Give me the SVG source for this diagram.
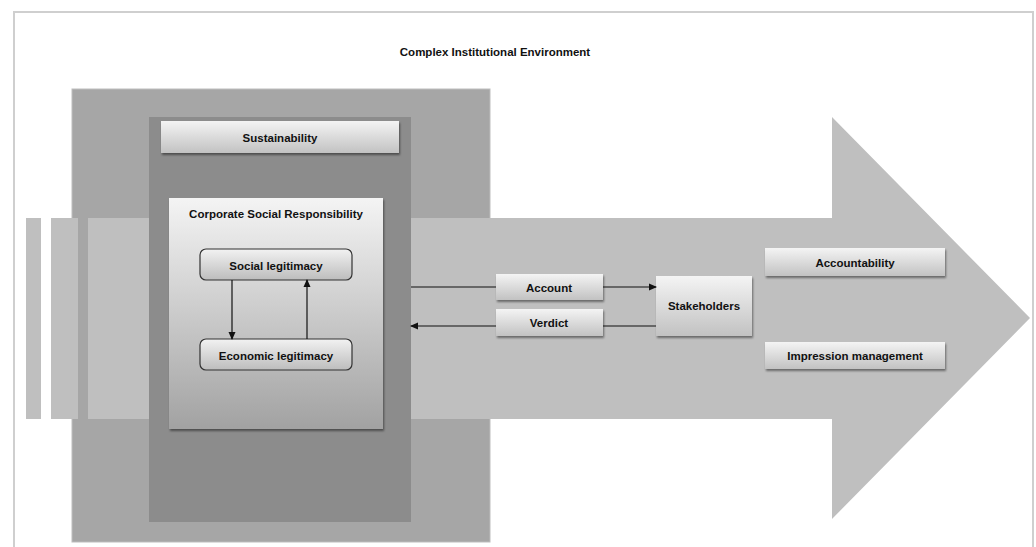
<svg xmlns="http://www.w3.org/2000/svg" width="1036" height="547" viewBox="0 0 1036 547">
<style>
text{font-family:"Liberation Sans",Arial,sans-serif;font-weight:bold;font-size:11.5px;fill:#111;text-anchor:middle;dominant-baseline:central}
.box{fill:url(#gBox);filter:url(#sh)}
.leg{fill:url(#gLeg);stroke:#333;stroke-width:1.2}
.conn{stroke:#111;stroke-width:1.2;fill:none}
</style>
<defs>
<linearGradient id="gBox" x1="0" y1="0" x2="0" y2="1">
<stop offset="0" stop-color="#f4f4f4"/><stop offset="1" stop-color="#c2c2c2"/>
</linearGradient>
<linearGradient id="gLeg" x1="0" y1="0" x2="0" y2="1">
<stop offset="0" stop-color="#f2f2f2"/><stop offset="1" stop-color="#bdbdbd"/>
</linearGradient>
<linearGradient id="gCsr" x1="0" y1="0" x2="0" y2="1">
<stop offset="0" stop-color="#f4f4f4"/><stop offset="1" stop-color="#a2a2a2"/>
</linearGradient>
<filter id="sh" x="-10%" y="-20%" width="120%" height="150%">
<feDropShadow dx="1" dy="2" stdDeviation="1.2" flood-color="#000" flood-opacity="0.45"/>
</filter>
<marker id="ah" markerWidth="8" markerHeight="8" refX="7" refY="4" orient="auto" markerUnits="userSpaceOnUse">
<path d="M0,0.5 L8,4 L0,7.5 Z" fill="#111"/>
</marker>
</defs>
<rect width="1036" height="547" fill="#fff"/>
<path d="M14,547 V12 H1033 V547" fill="none" stroke="#cfcfcf" stroke-width="2"/>
<text id="title" x="495" y="52" font-size="11.6">Complex Institutional Environment</text>

<rect id="outer" x="72" y="89" width="418" height="453" fill="#a6a6a6" stroke="#bdbdbd" stroke-width="1"/>
<g id="bigArrow" fill="#bfbfbf">
<rect x="26" y="218" width="15" height="201"/>
<rect x="51" y="218" width="27" height="201"/>
<path d="M88,218 H832 V117 L1030,318 L832,519 V419 H88 Z"/>
</g>
<rect id="inner" x="149" y="117" width="262" height="405" fill="#8c8c8c"/>

<g id="sustainability">
<rect class="box" x="161" y="121" width="238" height="32"/>
<text x="280" y="138">Sustainability</text>
</g>
<g id="csr">
<rect x="169" y="198" width="214" height="231" fill="url(#gCsr)" filter="url(#sh)"/>
<text x="276" y="214">Corporate Social Responsibility</text>
</g>
<g id="social">
<rect class="leg" x="200" y="249" width="152" height="31" rx="6"/>
<text x="276" y="266">Social legitimacy</text>
</g>
<g id="economic">
<rect class="leg" x="200" y="339" width="152" height="31" rx="6"/>
<text x="276" y="356">Economic legitimacy</text>
</g>
<g id="account">
<rect class="box" x="496" y="274" width="107" height="26"/>
<text x="549" y="288">Account</text>
</g>
<g id="verdict">
<rect class="box" x="496" y="309" width="107" height="27"/>
<text x="549" y="323">Verdict</text>
</g>
<g id="stakeholders">
<rect class="box" x="656" y="276" width="96" height="60"/>
<text x="704" y="306">Stakeholders</text>
</g>
<g id="accountability">
<rect class="box" x="765" y="248" width="180" height="28"/>
<text x="855" y="263">Accountability</text>
</g>
<g id="impression">
<rect class="box" x="765" y="342" width="180" height="27"/>
<text x="855" y="356">Impression management</text>
</g>

<g id="connectors">
<path class="conn" d="M232,280 V339" marker-end="url(#ah)"/>
<path class="conn" d="M307,339 V280" marker-end="url(#ah)"/>
<path class="conn" d="M411,287 H496"/>
<path class="conn" d="M603,287 H656" marker-end="url(#ah)"/>
<path class="conn" d="M656,326 H603"/>
<path class="conn" d="M496,326 H411" marker-end="url(#ah)"/>
</g>
</svg>
